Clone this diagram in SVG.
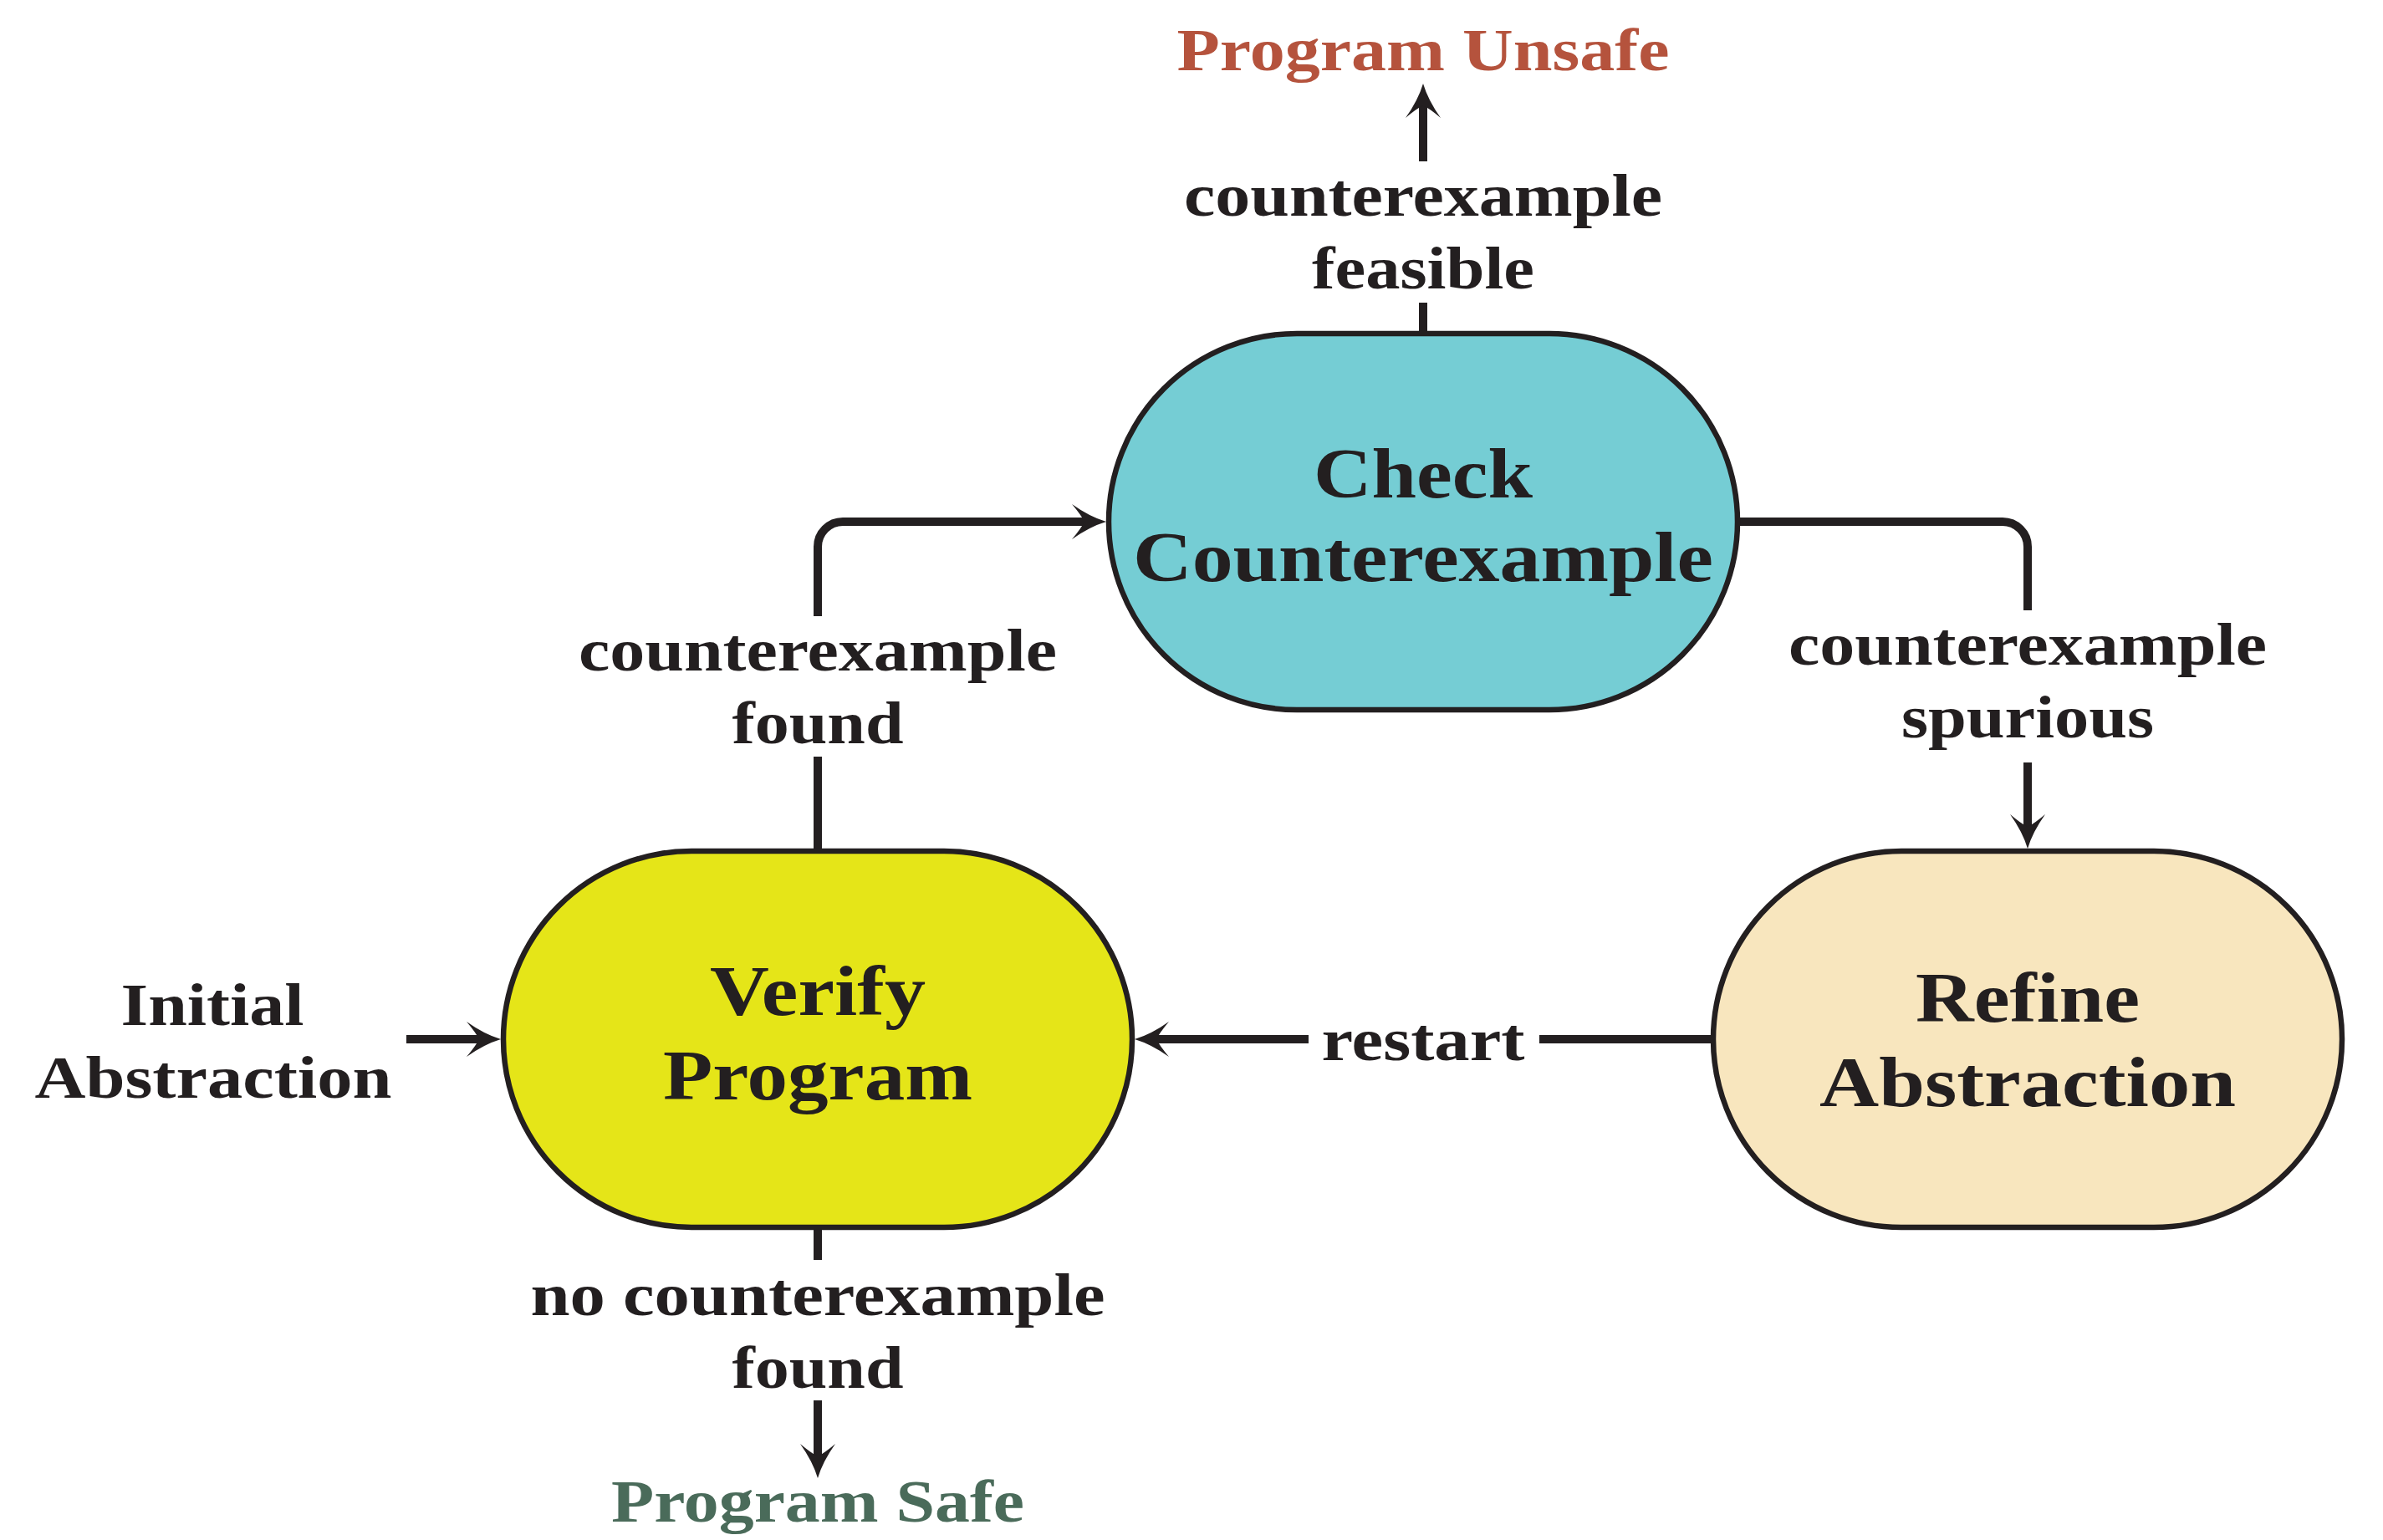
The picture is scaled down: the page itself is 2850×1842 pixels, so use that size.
<svg xmlns="http://www.w3.org/2000/svg" width="2850" height="1842" viewBox="0 0 2850 1842">
  <style>
    .node { stroke: #231F20; stroke-width: 6.5; }
    .edge { fill: none; stroke: #231F20; stroke-width: 10; stroke-linecap: butt; }
    .arrow { marker-end: url(#head); }
    text { font-family: "Liberation Serif", "Times New Roman", serif; font-weight: bold; fill: #231F20; text-anchor: middle; }
    .lbl { font-size: 72px; }
    .big { font-size: 84px; }
    .unsafe { fill: #B5533D; }
    .safe { fill: #4A6B5A; }
  </style>
  <defs>
    <!-- barbed arrowhead; origin sits at the notch, tip lies 26px ahead -->
    <marker id="head" markerUnits="userSpaceOnUse" orient="auto" refX="0" refY="0" markerWidth="60" markerHeight="60" overflow="visible">
      <path d="M26,0 Q6,-6 -15,-21 Q-4,-8 0,0 Q-4,8 -15,21 Q6,6 26,0 Z" fill="#231F20"/>
    </marker>
  </defs>

  <!-- connectors -->
  <g id="connectors">
    <!-- initial abstraction into Verify -->
    <path class="edge arrow" d="M486,1243 H573"/>
    <!-- Verify -> Check (counterexample found) -->
    <path class="edge" d="M978,1018 V905"/>
    <path class="edge arrow" d="M978,737 V654 A30,30 0 0 1 1008,624 H1297"/>
    <!-- Check -> Refine (counterexample spurious) -->
    <path class="edge" d="M2081,624 H2395 A30,30 0 0 1 2425,654 V730"/>
    <path class="edge arrow" d="M2425,912 V989"/>
    <!-- Refine -> Verify (restart) -->
    <path class="edge" d="M2049,1243 H1841"/>
    <path class="edge arrow" d="M1565,1243 H1383"/>
    <!-- Verify -> Program Safe -->
    <path class="edge" d="M978,1468 V1507"/>
    <path class="edge arrow" d="M978,1675 V1742"/>
    <!-- Check -> Program Unsafe -->
    <path class="edge" d="M1702,399 V362"/>
    <path class="edge arrow" d="M1702,193 V126"/>
  </g>

  <!-- edge labels -->
  <g id="edge-labels">
    <text class="lbl" x="1702" y="258" textLength="572" lengthAdjust="spacingAndGlyphs">counterexample</text>
    <text class="lbl" x="1702" y="345" textLength="266" lengthAdjust="spacingAndGlyphs">feasible</text>
    <text class="lbl" x="978" y="802" textLength="572" lengthAdjust="spacingAndGlyphs">counterexample</text>
    <text class="lbl" x="978" y="889" textLength="205" lengthAdjust="spacingAndGlyphs">found</text>
    <text class="lbl" x="2425" y="795" textLength="572" lengthAdjust="spacingAndGlyphs">counterexample</text>
    <text class="lbl" x="2425" y="882" textLength="302" lengthAdjust="spacingAndGlyphs">spurious</text>
    <text class="lbl" x="1702" y="1268" textLength="243" lengthAdjust="spacingAndGlyphs">restart</text>
    <text class="lbl" x="978" y="1573" textLength="687" lengthAdjust="spacingAndGlyphs">no counterexample</text>
    <text class="lbl" x="978" y="1660" textLength="205" lengthAdjust="spacingAndGlyphs">found</text>
  </g>

  <!-- start label -->
  <g id="initial">
    <text class="lbl" x="254" y="1226" textLength="219" lengthAdjust="spacingAndGlyphs">Initial</text>
    <text class="lbl" x="255" y="1313" textLength="427" lengthAdjust="spacingAndGlyphs">Abstraction</text>
  </g>

  <!-- outcomes -->
  <g id="unsafe">
    <text class="lbl unsafe" x="1702" y="84" textLength="589" lengthAdjust="spacingAndGlyphs">Program Unsafe</text>
  </g>
  <g id="safe">
    <text class="lbl safe" x="978" y="1820" textLength="494" lengthAdjust="spacingAndGlyphs">Program Safe</text>
  </g>

  <!-- process nodes -->
  <g id="check">
    <rect class="node" x="1326" y="399" width="752" height="450" rx="225" ry="225" fill="#75CDD4"/>
    <text class="big" x="1702" y="595" textLength="262" lengthAdjust="spacingAndGlyphs">Check</text>
    <text class="big" x="1702" y="695" textLength="694" lengthAdjust="spacingAndGlyphs">Counterexample</text>
  </g>
  <g id="verify">
    <rect class="node" x="602" y="1018" width="752" height="450" rx="225" ry="225" fill="#E5E518"/>
    <text class="big" x="978" y="1214" textLength="258" lengthAdjust="spacingAndGlyphs">Verify</text>
    <text class="big" x="978" y="1315" textLength="370" lengthAdjust="spacingAndGlyphs">Program</text>
  </g>
  <g id="refine">
    <rect class="node" x="2049" y="1018" width="752" height="450" rx="225" ry="225" fill="#F8E6BE"/>
    <text class="big" x="2425" y="1222" textLength="268" lengthAdjust="spacingAndGlyphs">Refine</text>
    <text class="big" x="2425" y="1323" textLength="498" lengthAdjust="spacingAndGlyphs">Abstraction</text>
  </g>
</svg>
